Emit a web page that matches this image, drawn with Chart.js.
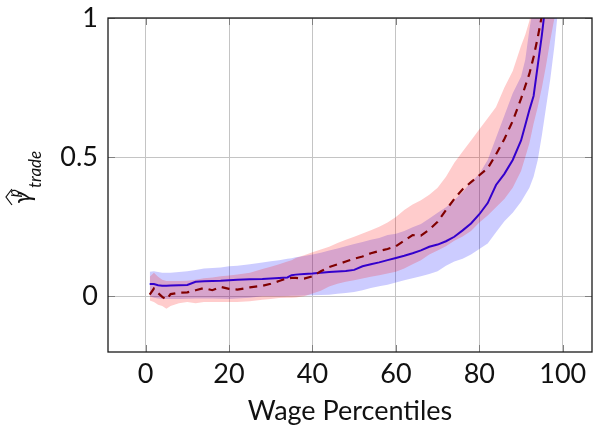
<!DOCTYPE html>
<html>
<head>
<meta charset="utf-8">
<script src="https://cdn.jsdelivr.net/npm/chart.js@4.4.1/dist/chart.umd.min.js"></script>
<style>
  body { margin: 0; background: #fff; }
</style>
</head>
<body>
<canvas id="gammaChart" width="593" height="426"></canvas>
<script>
// DATA
const pct = [1, 2, 3, 4, 5, 6, 8, 10, 12, 14, 16, 18, 20, 22, 25, 28, 30, 32, 34, 35, 36, 38, 40,
  42, 44, 46, 48, 50, 52, 54, 56, 58, 60, 62, 64, 66, 68, 70, 72, 74, 76, 78, 80, 82, 84, 86, 88, 90,
  91, 92, 93, 94, 95, 96, 97, 98, 99];

const blueMean = [0.044, 0.044, 0.040, 0.038, 0.038, 0.039, 0.040, 0.041, 0.052, 0.054, 0.055, 0.056, 0.058, 0.060,
  0.061, 0.062, 0.064, 0.066, 0.068, 0.076, 0.078, 0.080, 0.082,
  0.085, 0.087, 0.089, 0.091, 0.095, 0.108, 0.115, 0.122, 0.130, 0.138, 0.146, 0.155, 0.165, 0.178, 0.186, 0.198,
  0.214, 0.237, 0.262, 0.295, 0.335, 0.400, 0.440, 0.490, 0.560,
  0.615, 0.670, 0.720, 0.830, 0.940, 1.070, 1.200, 1.350, 1.500];
const blueUpper = [0.088, 0.090, 0.087, 0.085, 0.085, 0.085, 0.087, 0.090, 0.095, 0.100, 0.102, 0.104, 0.108, 0.110,
  0.115, 0.122, 0.126, 0.130, 0.135, 0.137, 0.140, 0.145, 0.150,
  0.157, 0.165, 0.172, 0.180, 0.188, 0.195, 0.203, 0.210, 0.220, 0.225, 0.235, 0.248, 0.260, 0.280, 0.300, 0.320,
  0.345, 0.375, 0.410, 0.440, 0.490, 0.570, 0.650, 0.730, 0.790,
  0.850, 0.960, 1.050, 1.150, 1.300, 1.450, 1.600, 1.800, 2.000];
const blueLower = [0.000, -0.005, -0.008, -0.010, -0.010, -0.010, -0.010, -0.009, -0.008, -0.008, -0.008, -0.009, -0.010, -0.008,
  -0.005, 0.000, 0.000, 0.000, 0.001, 0.002, 0.002, 0.003, 0.004,
  0.005, 0.006, 0.009, 0.012, 0.016, 0.022, 0.030, 0.036, 0.042, 0.050, 0.058, 0.065, 0.072, 0.080, 0.090, 0.110,
  0.125, 0.135, 0.150, 0.170, 0.190, 0.230, 0.270, 0.300, 0.340,
  0.365, 0.390, 0.430, 0.490, 0.580, 0.680, 0.780, 0.900, 1.050];

const redMean = [0.006, 0.028, 0.012, -0.002, -0.012, 0.008, 0.013, 0.014, 0.022, 0.030, 0.022, 0.034, 0.027, 0.024,
  0.032, 0.038, 0.045, 0.055, 0.065, 0.066, 0.066, 0.064, 0.072,
  0.090, 0.105, 0.115, 0.125, 0.135, 0.143, 0.155, 0.163, 0.170, 0.180, 0.200, 0.220, 0.218, 0.240, 0.268, 0.310,
  0.350, 0.385, 0.410, 0.435, 0.460, 0.510, 0.565, 0.630, 0.710,
  0.755, 0.800, 0.860, 0.930, 1.010, 1.120, 1.250, 1.400, 1.550];
const redUpper = [0.070, 0.085, 0.070, 0.060, 0.055, 0.055, 0.055, 0.056, 0.060, 0.065, 0.068, 0.072, 0.075, 0.078,
  0.085, 0.098, 0.106, 0.115, 0.125, 0.130, 0.138, 0.148, 0.158,
  0.168, 0.178, 0.192, 0.203, 0.214, 0.226, 0.237, 0.250, 0.265, 0.285, 0.310, 0.330, 0.345, 0.365, 0.390, 0.430,
  0.480, 0.520, 0.560, 0.600, 0.640, 0.680, 0.750, 0.810, 0.900,
  0.940, 0.990, 1.080, 1.160, 1.250, 1.350, 1.450, 1.600, 1.750];
const redLower = [-0.015, -0.020, -0.030, -0.035, -0.045, -0.035, -0.025, -0.020, -0.025, -0.020, -0.020, -0.020, -0.020, -0.020,
  -0.018, -0.012, -0.010, -0.006, -0.005, -0.005, -0.004, 0.000, 0.010,
  0.020, 0.035, 0.045, 0.052, 0.058, 0.064, 0.070, 0.076, 0.082, 0.088, 0.100, 0.115, 0.130, 0.150, 0.165, 0.180,
  0.200, 0.215, 0.235, 0.265, 0.290, 0.320, 0.350, 0.390, 0.450,
  0.500, 0.550, 0.620, 0.680, 0.750, 0.830, 0.920, 1.000, 1.100];

const xTicks = [0, 20, 40, 60, 80, 100];
const yTicks = [0, 0.5, 1];
const xTitle = "Wage Percentiles";

const FONT = "Lato, 'DejaVu Sans', sans-serif";

function toPoints(values) {
  return pct.map((p, i) => ({ x: p, y: values[i] }));
}

// band edge: invisible line, the upper one fills down to the next dataset
function bandEdge(label, values, fillColor, fillTo) {
  return {
    label: label,
    data: toPoints(values),
    borderWidth: 0,
    borderColor: "rgba(0,0,0,0)",
    pointRadius: 0,
    fill: fillTo,
    backgroundColor: fillColor,
  };
}

// frame, inward tick marks and axis titles
const framePlugin = {
  id: "frame",
  afterDatasetsDraw(chart) {
    const { ctx, chartArea: a, scales } = chart;
    ctx.save();
    ctx.strokeStyle = "#808080";
    ctx.lineWidth = 1;
    ctx.beginPath();
    xTicks.forEach(t => {
      const px = Math.round(scales.x.getPixelForValue(t)) + 0.5;
      ctx.moveTo(px, a.bottom); ctx.lineTo(px, a.bottom - 7);
      ctx.moveTo(px, a.top); ctx.lineTo(px, a.top + 7);
    });
    yTicks.forEach(t => {
      const py = Math.round(scales.y.getPixelForValue(t)) + 0.5;
      ctx.moveTo(a.left, py); ctx.lineTo(a.left + 7, py);
      ctx.moveTo(a.right, py); ctx.lineTo(a.right - 7, py);
    });
    ctx.stroke();
    ctx.strokeStyle = "#1a1a1a";
    ctx.lineWidth = 1.3;
    ctx.strokeRect(a.left, a.top, a.right - a.left, a.bottom - a.top);
    ctx.restore();
  },
  afterDraw(chart) {
    const { ctx, chartArea: a } = chart;
    ctx.save();
    ctx.fillStyle = "#111";
    ctx.textAlign = "center";
    ctx.textBaseline = "alphabetic";
    ctx.font = "27px " + FONT;
    ctx.fillText(xTitle, (a.left + a.right) / 2, 420);

    // y title: widehat gamma, superscript p, subscript trade (rotated)
    ctx.translate(31, 205);
    ctx.rotate(-Math.PI / 2);
    ctx.textAlign = "left";
    ctx.font = "italic 25px " + FONT;
    ctx.fillText("γ", 1, 0);
    ctx.font = "italic 15px " + FONT;
    ctx.fillText("p", 8, -12);
    ctx.font = "italic 17px " + FONT;
    ctx.fillText("trade", 17, 10);
    ctx.strokeStyle = "#111";
    ctx.lineWidth = 1.2;
    ctx.beginPath();
    ctx.moveTo(0, -19);
    ctx.lineTo(8, -25);
    ctx.lineTo(16, -19);
    ctx.stroke();
    ctx.restore();
  }
};

new Chart(document.getElementById("gammaChart"), {
  type: "line",
  data: {
    datasets: [
      {
        label: "red mean",
        data: toPoints(redMean),
        borderColor: "#800000",
        borderWidth: 2.2,
        borderDash: [8, 6],
        pointRadius: 0,
        fill: false,
      },
      bandEdge("red upper", redUpper, "rgba(255,0,0,0.2)", "+1"),
      bandEdge("red lower", redLower, "rgba(0,0,0,0)", false),
      {
        label: "blue mean",
        data: toPoints(blueMean),
        borderColor: "#0000ff",
        borderWidth: 2,
        pointRadius: 0,
        fill: false,
      },
      bandEdge("blue upper", blueUpper, "rgba(0,0,255,0.2)", "+1"),
      bandEdge("blue lower", blueLower, "rgba(0,0,0,0)", false),
    ]
  },
  options: {
    responsive: false,
    animation: false,
    layout: { padding: { top: 18, right: 1, left: 0, bottom: 0 } },
    plugins: { legend: { display: false }, tooltip: { enabled: false } },
    elements: { line: { tension: 0 } },
    scales: {
      x: {
        type: "linear",
        min: -9,
        max: 107,
        afterFit(scale) { scale.height = 74; scale.paddingLeft = 0; scale.paddingRight = 0; },
        afterBuildTicks(scale) { scale.ticks = xTicks.map(v => ({ value: v })); },
        grid: { color: "#c4c4c4", lineWidth: 1, drawTicks: false },
        border: { display: false },
        ticks: { color: "#111", font: { family: FONT, size: 27 }, padding: 6, maxRotation: 0 },
      },
      y: {
        min: -0.2,
        max: 1,
        afterFit(scale) { scale.width = 108; scale.paddingTop = 0; scale.paddingBottom = 0; },
        afterBuildTicks(scale) { scale.ticks = yTicks.map(v => ({ value: v })); },
        grid: { color: "#c4c4c4", lineWidth: 1, drawTicks: false },
        border: { display: false },
        ticks: { color: "#111", font: { family: FONT, size: 27 }, padding: 10, callback: v => String(v) },
      }
    }
  },
  plugins: [framePlugin]
});
</script>
</body>
</html>
